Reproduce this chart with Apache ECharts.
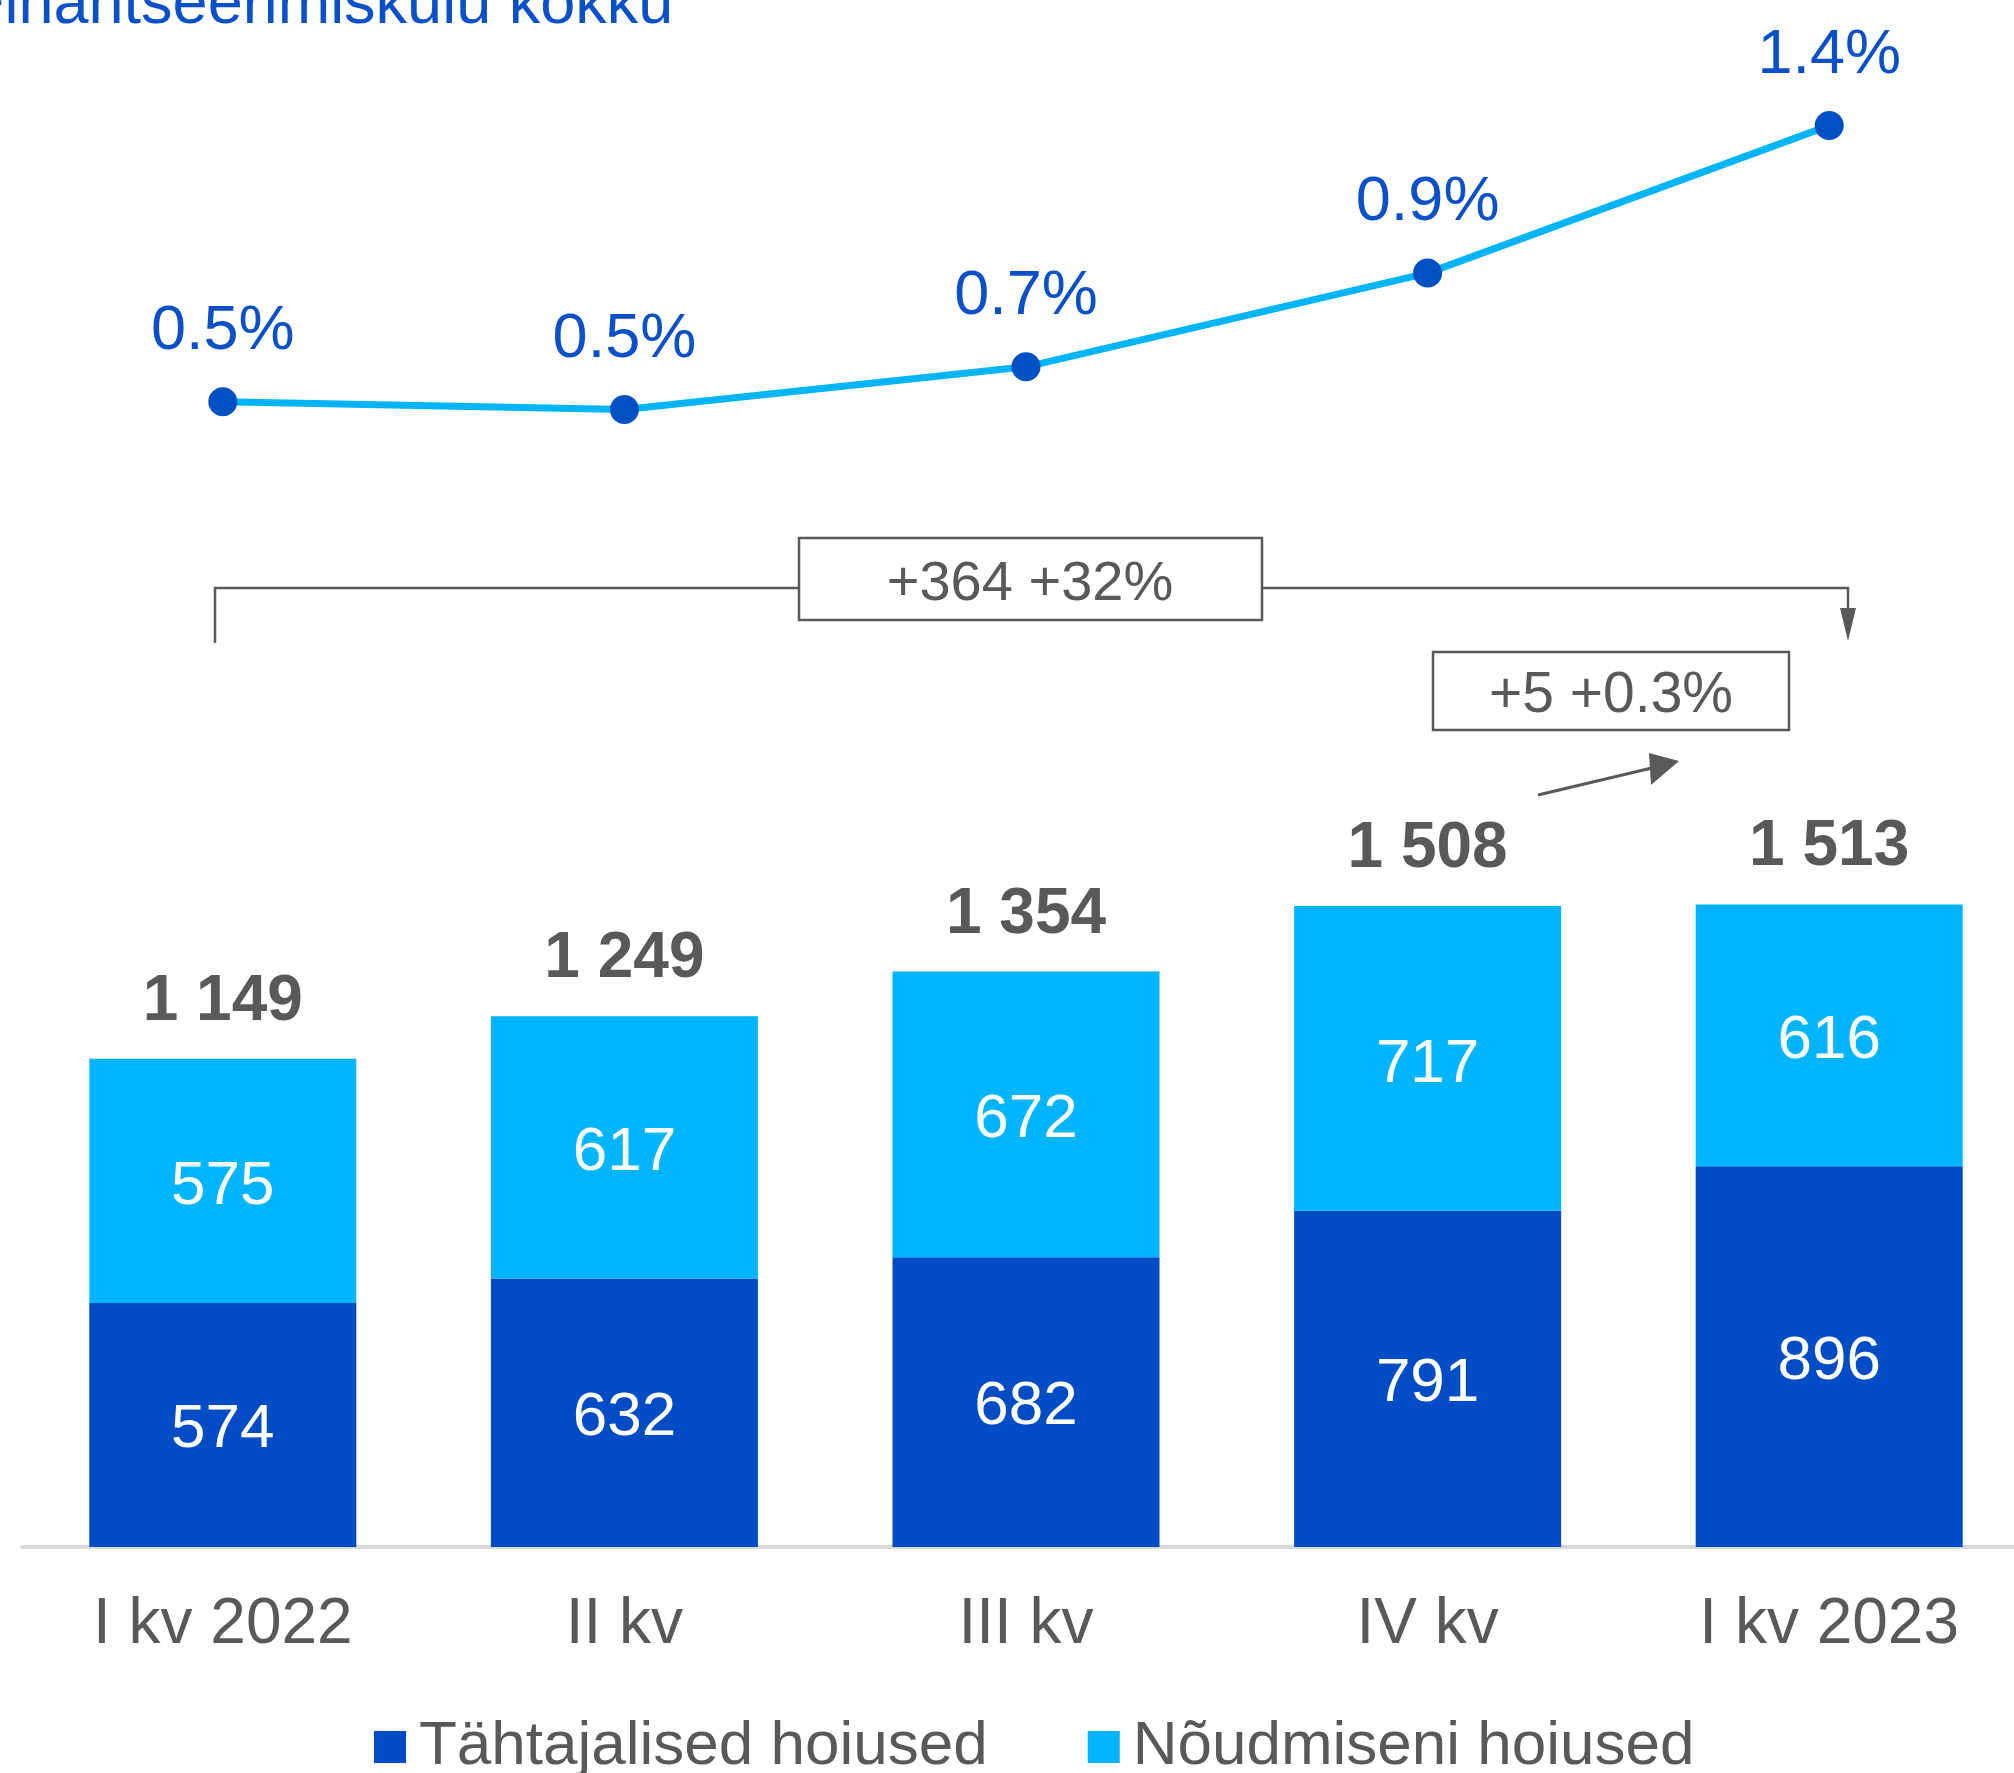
<!DOCTYPE html>
<html>
<head>
<meta charset="utf-8">
<title>Hoiused</title>
<script src="https://cdn.jsdelivr.net/npm/echarts@6/dist/echarts.min.js"></script>
<style>
  html, body { margin: 0; padding: 0; background: #fff; }
  #chart { width: 2014px; height: 1773px; }
</style>
</head>
<body>
<div id="chart"></div>
<script>
// andmed
const quarters = ['I kv 2022', 'II kv', 'III kv', 'IV kv', 'I kv 2023']
const tahtajalised = [574, 632, 682, 791, 896]
const noudmiseni = [575, 617, 672, 717, 616]
const kokku = [1149, 1249, 1354, 1508, 1513]
const finKulu = [0.546, 0.523, 0.652, 0.936, 1.383]   // %, loetud jooniselt

const DARK = '#004cc5'
const LIGHT = '#00b5ff'
const GRAY = '#595959'
const FONT = '"Liberation Sans", Arial, sans-serif'

const chart = echarts.init(document.getElementById('chart'))

const option = {
  animation: false,
  backgroundColor: '#fff',
  textStyle: { fontFamily: FONT },
  grid: [
    // tulbad; grid ulatub paremalt veidi üle serva nagu originaalis
    { left: 22, width: 2008, top: 697, bottom: 226, containLabel: false, outerBoundsMode: 'none' },
    // joon
    { left: 22, width: 2008, top: 87, height: 495, containLabel: false, outerBoundsMode: 'none' }
  ],
  legend: {
    left: 369, top: 1711,
    itemWidth: 32, itemHeight: 32, itemGap: 100,
    icon: 'rect',
    textStyle: { color: GRAY, fontSize: 62, lineHeight: 62, fontFamily: FONT, padding: [0, 0, 0, 8] },
    data: ['Tähtajalised hoiused', 'Nõudmiseni hoiused']
  },
  xAxis: [
    {
      type: 'category', gridIndex: 0, data: quarters,
      axisLine: { show: true, lineStyle: { color: '#d9d9d9', width: 4 } },
      axisTick: { show: false },
      axisLabel: { color: GRAY, fontSize: 64, lineHeight: 64, margin: 46, fontFamily: FONT }
    },
    { type: 'category', gridIndex: 1, data: quarters, show: false }
  ],
  yAxis: [
    { type: 'value', gridIndex: 0, min: 0, max: 2000, show: false },
    { type: 'value', gridIndex: 1, min: 0, max: 1.5, show: false }
  ],
  series: [
    {
      name: 'Tähtajalised hoiused', type: 'bar', stack: 'kokku', barWidth: 267,
      itemStyle: { color: DARK },
      label: { show: true, position: 'inside', offset: [0, 5], color: '#fff', fontSize: 62, fontFamily: FONT },
      data: tahtajalised
    },
    {
      name: 'Nõudmiseni hoiused', type: 'bar', stack: 'kokku', barWidth: 267,
      itemStyle: { color: LIGHT },
      label: { show: true, position: 'inside', offset: [0, 6], color: '#fff', fontSize: 62, fontFamily: FONT },
      data: noudmiseni
    },
    {
      name: 'kokku', type: 'scatter', symbolSize: 1,
      itemStyle: { color: 'rgba(255,255,255,0)', opacity: 1 },
      label: {
        show: true, position: 'top', distance: 24,
        color: GRAY, fontSize: 64, lineHeight: 64, fontWeight: 'bold', fontFamily: FONT,
        formatter: (p) => String(p.value).replace(/\B(?=(\d{3})+(?!\d))/g, ' ')
      },
      data: kokku
    },
    {
      name: 'Finantseerimiskulu kokku', type: 'line', xAxisIndex: 1, yAxisIndex: 1,
      symbol: 'circle', symbolSize: 29,
      lineStyle: { color: '#00b4f8', width: 7 },
      itemStyle: { color: '#0050c4' },
      label: {
        show: true, position: 'top', distance: 24,
        color: '#0a50c8', fontSize: 63, lineHeight: 63, fontFamily: FONT,
        formatter: (p) => p.value.toFixed(1) + '%'
      },
      data: finKulu
    }
  ],
  graphic: [
    // pealkiri (ülevalt ära lõigatud)
    {
      type: 'text', x: -34, y: 37,
      style: { text: 'Finantseerimiskulu kokku', fill: '#0a50c8', font: '63px ' + FONT, verticalAlign: 'bottom' }
    },
    // aastane muutus
    { type: 'polyline', shape: { points: [[215, 643], [215, 588], [799, 588]] }, style: { stroke: GRAY, lineWidth: 2.5, fill: null } },
    { type: 'polyline', shape: { points: [[1262, 588], [1848, 588], [1848, 612]] }, style: { stroke: GRAY, lineWidth: 2.5, fill: null } },
    { type: 'polygon', shape: { points: [[1840, 608], [1856, 608], [1848, 641]] }, style: { fill: GRAY } },
    { type: 'rect', shape: { x: 799, y: 538, width: 463, height: 82 }, style: { fill: '#fff', stroke: GRAY, lineWidth: 2.5 } },
    {
      type: 'text', x: 1030, y: 585,
      style: { text: '+364 +32%', fill: GRAY, font: '56px ' + FONT, align: 'center', verticalAlign: 'middle' }
    },
    // kvartali muutus
    { type: 'rect', shape: { x: 1433, y: 652, width: 356, height: 78 }, style: { fill: '#fff', stroke: GRAY, lineWidth: 2.5 } },
    {
      type: 'text', x: 1611, y: 696,
      style: { text: '+5 +0.3%', fill: GRAY, font: '57px ' + FONT, align: 'center', verticalAlign: 'middle' }
    },
    { type: 'line', shape: { x1: 1538, y1: 795, x2: 1656, y2: 767 }, style: { stroke: GRAY, lineWidth: 3 } },
    { type: 'polygon', shape: { points: [[1649, 753], [1651, 785], [1679, 761]] }, style: { fill: GRAY } }
  ]
}

chart.setOption(option)
</script>
</body>
</html>
